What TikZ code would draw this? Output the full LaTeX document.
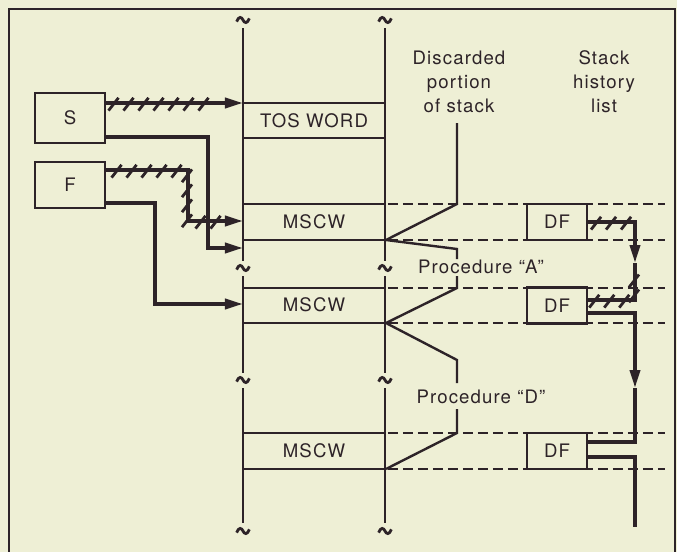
\documentclass[tikz,border=0pt]{standalone}
\usepackage{fontspec}
\setmainfont{TeX Gyre Heros}[LetterSpace=6.0]
\usetikzlibrary{arrows.meta, decorations.markings, positioning}
\definecolor{ink}{RGB}{45,35,40}
\definecolor{paper}{RGB}{238,239,213}
\tikzset{
  stackline/.style={ink, line width=1.3pt},
  cell/.style={ink, line width=1.2pt},
  level/.style={ink, line width=1.1pt, dash pattern=on 5pt off 2.5pt},
  lbl/.style={font=\fontsize{9.3}{12}\selectfont, text=ink, align=center},
  reg/.style={lbl, draw=ink, fill=paper, line width=1.3pt, minimum width=35pt, inner sep=0pt},
  dfbox/.style={lbl, draw=ink, fill=paper, line width=1.3pt, minimum width=30pt, minimum height=18pt, inner sep=0pt},
  link/.style={ink, line width=1.8pt},
  head/.style={-{Triangle[length=9pt,width=5pt]}},
  ticks/.style 2 args={postaction={decorate, decoration={markings,
      mark=between positions #1 and #2 step 7.5pt with {\pgftransformresetnontranslations
        \draw[ink, arrows=-, line width=1.4pt] (-3pt,-3.8pt) -- (2pt,2.6pt);}}}},
  tildemark/.pic={\draw[ink, line width=1.4pt] (-3.2pt,-0.8pt) .. controls (-2pt,2.2pt) and (-0.7pt,1.5pt) .. (0,0)
      .. controls (0.7pt,-1.5pt) and (2pt,-2.2pt) .. (3.2pt,0.8pt);}
}

\begin{document}
\begin{tikzpicture}[x=0.5pt, y=-0.5pt]
  \useasboundingbox (0,0) rectangle (677,552);
  \fill[paper] (0,0) rectangle (677,552);
  \draw[ink, line width=0.9pt] (9,552) -- (9,9) -- (675,9) -- (675,552);

  % the stack
  \foreach \x in {243,385} {
    \draw[stackline] (\x,28) -- (\x,261);
    \draw[stackline] (\x,276) -- (\x,373);
    \draw[stackline] (\x,388) -- (\x,523);
    \foreach \y in {20,268,380,531}
      \pic at (\x,\y) {tildemark};
  }
  \foreach \y in {103,138,204,240,288,323,433,469}
    \draw[cell] (243,\y) -- (385,\y);
  \foreach \y in {204,240,288,323,433,469}
    \draw[level] (388,\y) -- (665,\y);

  \node[lbl] (tosw) at (314,121) {TOS WORD};
  \node[lbl] (mscwa) at (314,222) {MSCW};
  \node[lbl] (mscwb) at (314,305) {MSCW};
  \node[lbl] (mscwc) at (314,451) {MSCW};

  % discarded parts
  \draw[cell] (457,123) -- (457,204) -- (386,240) -- (457,249) -- (457,259);
  \draw[cell] (457,276) -- (457,288) -- (386,323) -- (457,360) -- (457,383);
  \draw[cell] (457,409) -- (457,433) -- (386,469);
  \node[lbl] (discard) at (459,82) {Discarded\\portion\\of stack};
  \node[lbl] (history) at (604,82) {Stack\\history\\list};
  \node[lbl] (proca) at (481,267) {Procedure \textquotedblleft A\textquotedblright};
  \node[lbl] (procd) at (481,397) {Procedure \textquotedblleft D\textquotedblright};

  % registers
  \node[reg, minimum height=25pt] (s) at (70,118) {S};
  \node[reg, minimum height=23pt] (f) at (70,185) {F};
  \coordinate (tos) at (243,103);
  \coordinate (mscwin) at (243,221);
  \coordinate (oldtop) at (243,248);
  \coordinate (oldmscw) at (243,304);
  \draw[link, head, ticks={0.06}{0.8}] (s.east |- tos) -- (tos);
  \draw[link, head] ([yshift=-9.5pt]s.east) -| (208,248) -- (oldtop);
  \draw[link, head, ticks={0.06}{0.88}] ([yshift=7.5pt]f.east) -| (188,221) -- (mscwin);
  \draw[link, head] ([yshift=-9pt]f.east) -| (155,304) -- (oldmscw);

  % history list
  \node[dfbox] (dfa) at (557,222) {DF};
  \node[dfbox] (dfb) at (557,305.5) {DF};
  \node[dfbox] (dfc) at (557,451) {DF};
  \coordinate (linka) at (635,263);
  \coordinate (linkb) at (635,388);
  \coordinate (histend) at (635,527);
  \draw[link, head, ticks={0.1}{0.6}] (dfa.east) -| (linka);
  \draw[link, ticks={0.2}{0.96}] (linka) |- ([yshift=2.75pt]dfb.east);
  \draw[link, head] ([yshift=-3.75pt]dfb.east) -| (linkb);
  \draw[link] (linkb) |- ([yshift=4.5pt]dfc.east);
  \draw[link] ([yshift=-3pt]dfc.east) -| (histend);
\end{tikzpicture}
\end{document}
